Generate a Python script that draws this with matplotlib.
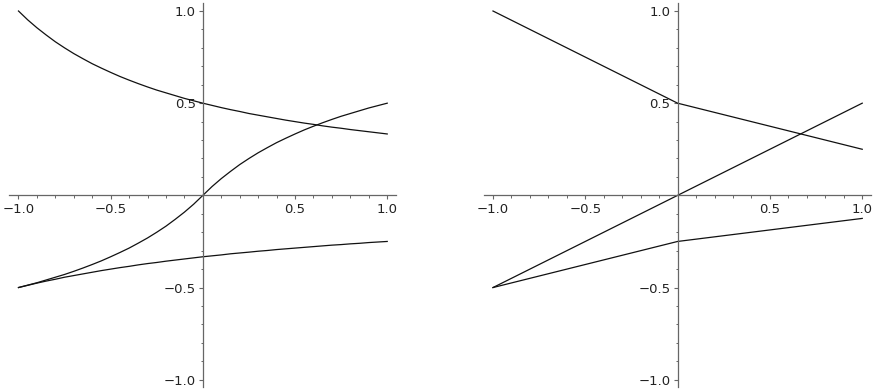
import matplotlib
matplotlib.use("Agg")
import matplotlib.pyplot as plt
from matplotlib.ticker import FixedLocator, FixedFormatter

# left panel: smooth curves
x_left = [-1.0, -0.95, -0.9, -0.85, -0.8, -0.75, -0.7, -0.65, -0.6, -0.55, -0.5,
          -0.45, -0.4, -0.35, -0.3, -0.25, -0.2, -0.15, -0.1, -0.05, 0.0,
          0.05, 0.1, 0.15, 0.2, 0.25, 0.3, 0.35, 0.4, 0.45, 0.5,
          0.55, 0.6, 0.65, 0.7, 0.75, 0.8, 0.85, 0.9, 0.95, 1.0]
upper_left = [1.0, 0.952, 0.909, 0.870, 0.833, 0.8, 0.769, 0.741, 0.714, 0.690, 0.667,
              0.645, 0.625, 0.606, 0.588, 0.571, 0.556, 0.541, 0.526, 0.513, 0.5,
              0.488, 0.476, 0.465, 0.455, 0.444, 0.435, 0.426, 0.417, 0.408, 0.4,
              0.392, 0.385, 0.377, 0.370, 0.364, 0.357, 0.351, 0.345, 0.339, 0.333]
middle_left = [-0.5, -0.487, -0.474, -0.459, -0.444, -0.429, -0.412, -0.394, -0.375, -0.355, -0.333,
               -0.310, -0.286, -0.259, -0.231, -0.2, -0.167, -0.130, -0.091, -0.048, 0.0,
               0.048, 0.091, 0.130, 0.167, 0.2, 0.231, 0.259, 0.286, 0.310, 0.333,
               0.355, 0.375, 0.394, 0.412, 0.429, 0.444, 0.459, 0.474, 0.487, 0.5]
lower_left = [-0.5, -0.488, -0.476, -0.465, -0.455, -0.444, -0.435, -0.426, -0.417, -0.408, -0.4,
              -0.392, -0.385, -0.377, -0.370, -0.364, -0.357, -0.351, -0.345, -0.339, -0.333,
              -0.328, -0.323, -0.317, -0.3125, -0.308, -0.303, -0.299, -0.294, -0.290, -0.286,
              -0.282, -0.278, -0.274, -0.270, -0.267, -0.263, -0.260, -0.256, -0.253, -0.25]

# right panel: piecewise linear through three points
x_right = [-1.0, 0.0, 1.0]
upper_right = [1.0, 0.5, 0.25]
middle_right = [-0.5, 0.0, 0.5]
lower_right = [-0.5, -0.25, -0.125]

major_ticks = [-1.0, -0.5, 0.5, 1.0]
major_labels = ["\u22121.0", "\u22120.5", "0.5", "1.0"]
minor_ticks = [k / 10 for k in range(-10, 11) if k % 5 != 0]

axis_color = "#666666"
line_color = "#111111"

fig = plt.figure(figsize=(8.74, 3.92), dpi=100)
ax_l = fig.add_axes([0.0106, 0.0125, 0.443, 0.9806])
ax_r = fig.add_axes([0.5535, 0.0125, 0.4436, 0.9806])


def style(ax):
    ax.set_xlim(-1.05, 1.05)
    ax.set_ylim(-1.04, 1.045)
    for side in ("top", "right"):
        ax.spines[side].set_visible(False)
    ax.spines["left"].set_position(("data", 0))
    ax.spines["bottom"].set_position(("data", 0))
    for side in ("left", "bottom"):
        ax.spines[side].set_color(axis_color)
        ax.spines[side].set_linewidth(0.9)
    ax.xaxis.set_major_locator(FixedLocator(major_ticks))
    ax.xaxis.set_major_formatter(FixedFormatter(major_labels))
    ax.yaxis.set_major_locator(FixedLocator(major_ticks))
    ax.yaxis.set_major_formatter(FixedFormatter(major_labels))
    ax.xaxis.set_minor_locator(FixedLocator(minor_ticks))
    ax.yaxis.set_minor_locator(FixedLocator(minor_ticks))
    ax.tick_params(which="major", direction="out", length=3.2, width=0.8,
                   color=axis_color, labelsize=9.5, labelcolor="#222222", pad=2)
    ax.tick_params(which="minor", direction="out", length=1.8, width=0.7,
                   color=axis_color)
    ax.patch.set_alpha(0)


for ax in (ax_l, ax_r):
    style(ax)

for ys in (upper_left, middle_left, lower_left):
    ax_l.plot(x_left, ys, color=line_color, linewidth=0.9)
for ys in (upper_right, middle_right, lower_right):
    ax_r.plot(x_right, ys, color=line_color, linewidth=0.9)

fig.savefig("out.png", dpi=100)
